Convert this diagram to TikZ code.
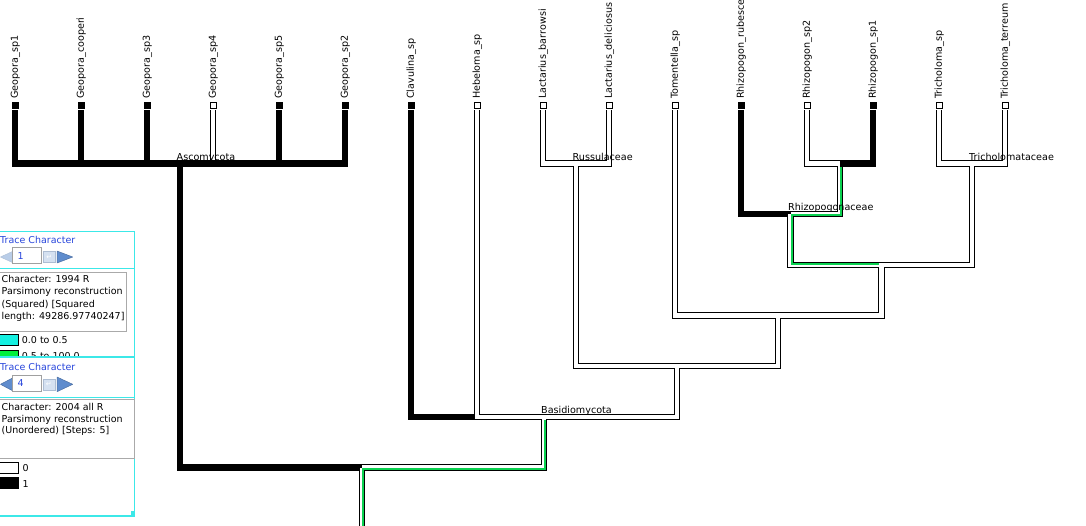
\documentclass[tikz,border=0pt]{standalone}
\usepackage{fontspec}
\setmainfont{DejaVu Sans}
\usetikzlibrary{calc}
\definecolor{panelcyan}{RGB}{60,232,232}
\definecolor{swatchcyan}{RGB}{20,240,225}
\definecolor{swatchgreen}{RGB}{0,240,60}
\definecolor{tracegreen}{RGB}{10,210,80}
\definecolor{traceblue}{RGB}{40,70,220}
\definecolor{infogray}{RGB}{170,170,170}
\definecolor{fieldgray}{RGB}{160,160,160}
\definecolor{navblue}{RGB}{95,140,205}
\definecolor{navpale}{RGB}{185,205,232}
\newcommand{\taxfont}{\fontsize{9.6}{11}\selectfont}
\newcommand{\infofont}{\fontsize{9.5}{11}\selectfont}
\tikzset{
  tipbox/.style   = {draw, rectangle, inner sep=0pt, minimum size=6pt, line width=0.9pt},
  leaf 1/.style   = {tipbox, fill=black},
  leaf 0/.style   = {tipbox, fill=white},
  taxon/.style    = {font=\taxfont, rotate=90, anchor=base west, inner sep=0pt},
  clade/.style    = {font=\taxfont, anchor=base west, inner sep=0pt},
  branch/.style   = {line width=6.5pt, line join=miter},
  branch 0/.style = {white, line width=4.5pt, line join=miter},
  trace/.style    = {tracegreen, line width=1.8pt, line join=miter},
  panel/.style    = {draw=panelcyan, line width=1.3pt, fill=white},
  infobox/.style  = {draw=infogray, line width=0.8pt, fill=white},
  infotext/.style = {font=\infofont, anchor=base west, inner sep=0pt},
  tracetitle/.style = {infotext, text=traceblue},
  swatch/.style   = {draw, line width=0.8pt, inner sep=0pt, minimum width=19pt, minimum height=11pt},
  field/.style    = {draw=fieldgray, fill=white, line width=0.8pt, inner sep=0pt,
                     minimum width=29pt, minimum height=16pt},
  enterbtn/.style = {draw=navpale!80!gray, fill=navpale!60, line width=0.6pt, inner sep=0pt,
                     minimum width=12pt, minimum height=11pt, font=\fontsize{7}{7}\selectfont,
                     text=white},
  navarrow/.style = {fill=navblue, draw=navblue!80!black, line width=0.5pt, line join=round},
  navoff/.style   = {fill=navpale, draw=navpale!85!gray, line width=0.5pt, line join=round}
}

\begin{document}
\begin{tikzpicture}[x=1pt, y=-1pt]
\useasboundingbox (0,0) rectangle (1086,525);
\clip (0,0) rectangle (1086,525);

% tips of the tree
\foreach \taxname/\tstate [count=\i] in {Geopora\_sp1/1, Geopora\_cooperi/1, Geopora\_sp3/1,
    Geopora\_sp4/0, Geopora\_sp5/1, Geopora\_sp2/1, Clavulina\_sp/1, Hebeloma\_sp/0,
    Lactarius\_barrowsi/0, Lactarius\_deliciosus/0, Tomentella\_sp/0, Rhizopogon\_rubescens/1,
    Rhizopogon\_sp2/0, Rhizopogon\_sp1/1, Tricholoma\_sp/0, Tricholoma\_terreum/0}{
  \node[leaf \tstate] (t\i) at ({15+66*(\i-1)},105) {};
  \coordinate (b\i) at ({15+66*(\i-1)},110);
  \node[taxon] (name\i) at ({17.8+66*(\i-1)},99) {\taxname};
}

% internal nodes
\coordinate (asco)    at (180,163.5);
\coordinate (russ)    at (576,163.5);
\coordinate (r2)      at (840,163.5);
\coordinate (trich)   at (972,163.5);
\coordinate (rhizo)   at (790.5,214);
\coordinate (n2)      at (881.25,265);
\coordinate (n1)      at (778.1,315.5);
\coordinate (n0)      at (677,366);
\coordinate (basid)   at (544,417);
\coordinate (root)    at (362,467.5);
\coordinate (rootend) at (362,540);

% all branches, outline
\foreach \anc/\desc in {asco/b1, asco/b2, asco/b3, asco/b4, asco/b5, asco/b6,
    russ/b9, russ/b10, r2/b13, r2/b14, rhizo/b12, rhizo/r2, trich/b15, trich/b16,
    n2/rhizo, n2/trich, n1/b11, n1/n2, n0/russ, n0/n1,
    basid/b7, basid/b8, basid/n0, root/asco, root/basid}
  \draw[branch] (\anc) -| (\desc);
\draw[branch] (root) -- (rootend);

% state 0 branches
\foreach \anc/\desc in {russ/b9, russ/b10, r2/b13, rhizo/r2, trich/b15, trich/b16,
    n2/rhizo, n2/trich, n1/b11, n1/n2, n0/russ, n0/n1, basid/b8, basid/n0, root/basid}
  \draw[branch 0] (\anc) -| (\desc);
\draw[branch 0] (root) -- (rootend);
\draw[branch 0] (b4) -- ($(b4 |- asco)+(0,-3.25)$);
\draw[branch] (r2) -| (b14);

% second character
\draw[trace] ($(r2)+(1.3,3.25)$) |- ($(rhizo)+(1.3,1.3)$) |- ($(n2)+(-2.25,-1.3)$);
\draw[trace] ($(basid)+(1.3,3.25)$) |- ($(root)+(1.3,1.3)$) -- ($(rootend)+(1.3,0)$);

% clade names
\node[clade] (lasco)  at ($(asco)+(-3.5,-3.5)$)  {Ascomycota};
\node[clade] (lruss)  at ($(russ)+(-3.5,-3.5)$)  {Russulaceae};
\node[clade] (lrhizo) at ($(rhizo)+(-2.5,-3.5)$) {Rhizopogonaceae};
\node[clade] (ltrich) at ($(trich)+(-3,-3.5)$)   {Tricholomataceae};
\node[clade] (lbasid) at ($(basid)+(-3,-3.5)$)   {Basidiomycota};

% trace panel, character 1
\draw[panel] (-2,231.5) rectangle (134.5,370);
\node[tracetitle] (titleA) at (0,243.5) {Trace Character};
\draw[navoff] (12.5,251.5) -- (0.5,257) -- (12.5,262.5) -- cycle;
\node[field] (fieldA) at (27.2,255.5) {};
\node[infotext, text=traceblue] (numA) at (17.5,259.5) {1};
\node[enterbtn] (enterA) at (49.2,257) {↵};
\draw[navarrow] (57,251) -- (72.7,257) -- (57,263) -- cycle;
\draw[panelcyan, line width=1.3pt] (-2,268.3) -- (134.5,268.3);
\draw[infobox] (-2,272.3) rectangle (126,331.7);
\foreach \txt [count=\k] in {{Character: 1994 R}, {Parsimony reconstruction},
    {(Squared) [Squared}, {length: 49286.97740247]}}
  \node[infotext] (infoA\k) at (1.5,{269.5+12.6*\k}) {\txt};
\node[swatch, fill=swatchcyan] (swA1) at (8.6,340) {};
\node[infotext] (keyA1) at (21.7,343.6) {0.0 to 0.5};
\node[swatch, fill=swatchgreen] (swA2) at (8.6,355.8) {};
\node[infotext] (keyA2) at (21.7,359.4) {0.5 to 100.0};

% trace panel, character 4
\draw[panel] (-2,357) rectangle (134.5,516);
\node[tracetitle] (titleB) at (0,370.3) {Trace Character};
\draw[navarrow] (12.5,378) -- (0.5,384.3) -- (12.5,390.7) -- cycle;
\node[field] (fieldB) at (27.2,383.3) {};
\node[infotext, text=traceblue] (numB) at (17.5,386.8) {4};
\node[enterbtn] (enterB) at (48.9,384.3) {↵};
\draw[navarrow] (57,377) -- (72.7,384.3) -- (57,391.7) -- cycle;
\draw[panelcyan, line width=1.3pt] (-2,397.3) -- (134.5,397.3);
\draw[infobox] (-2,399.3) rectangle (134.3,458.3);
\foreach \txt [count=\k] in {{Character: 2004 all R}, {Parsimony reconstruction},
    {(Unordered) [Steps: 5]}}
  \node[infotext] (infoB\k) at (1.5,{398.5+11.8*\k}) {\txt};
\node[swatch, fill=white] (swB1) at (8.6,468.3) {};
\node[infotext] (keyB1) at (22.5,471.8) {0};
\node[swatch, fill=black] (swB2) at (8.6,483.3) {};
\node[infotext] (keyB2) at (22.5,487.4) {1};
\fill[panelcyan] (130.7,511) rectangle (135,516.3);
\end{tikzpicture}
\end{document}
